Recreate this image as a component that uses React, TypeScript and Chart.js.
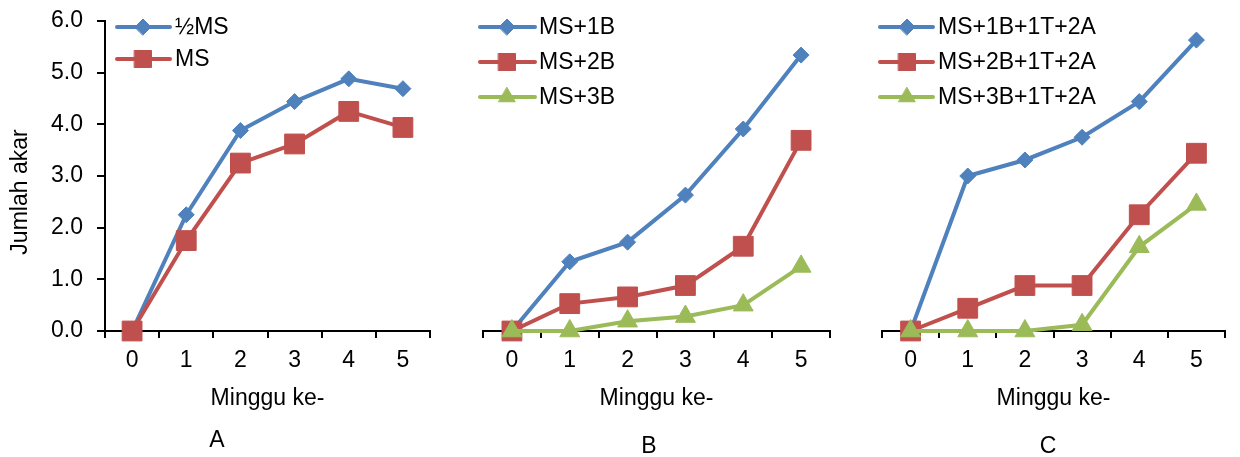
import React, { useEffect, useRef } from "react";
import { Chart, registerables } from "chart.js";

Chart.register(...registerables);

const WEEKS = ["0", "1", "2", "3", "4", "5"];

const A_HALF_MS = [0, 2.25, 3.88, 4.44, 4.88, 4.69];
const A_MS = [0, 1.75, 3.25, 3.62, 4.25, 3.94];

const B_1B = [0, 1.34, 1.72, 2.63, 3.91, 5.34];
const B_2B = [0, 0.53, 0.66, 0.88, 1.64, 3.69];
const B_3B = [0, 0, 0.19, 0.28, 0.5, 1.25];

const C_1B = [0, 3.0, 3.31, 3.75, 4.44, 5.63];
const C_2B = [0, 0.44, 0.88, 0.88, 2.25, 3.44];
const C_3B = [0, 0, 0, 0.12, 1.63, 2.45];

const Y_TITLE = "Jumlah akar";
const X_TITLE = "Minggu ke-";

const FONT = "'Liberation Sans', Arial, sans-serif";
const BLUE = "#4F81BD";
const RED = "#C0504D";
const GREEN = "#9BBB59";

type Series = { label: string; data: number[]; color: string; style: string; r: number; lr: number };

const diamond = (label: string, data: number[]): Series => ({ label, data, color: BLUE, style: "rectRot", r: 8, lr: 8 });
const square = (label: string, data: number[]): Series => ({ label, data, color: RED, style: "rect", r: 14, lr: 12 });
const triangle = (label: string, data: number[]): Series => ({ label, data, color: GREEN, style: "triangle", r: 11.5, lr: 9.5 });

const PANELS = [
  {
    left: 0, width: 445, padL: 0, padR: 13, yAxis: true,
    letter: "A", letterX: 217, letterY: 447,
    legend: { x1: 117, x2: 170, mx: 143, tx: 175, rows: [27, 59] },
    series: [diamond("½MS", A_HALF_MS), square("MS", A_MS)],
  },
  {
    left: 445, width: 400, padL: 38, padR: 4, yAxis: false,
    letter: "B", letterX: 204, letterY: 453,
    legend: { x1: 35, x2: 90, mx: 62, tx: 94, rows: [27, 62, 97] },
    series: [diamond("MS+1B", B_1B), square("MS+2B", B_2B), triangle("MS+3B", B_3B)],
  },
  {
    left: 845, width: 395, padL: 37, padR: 0, yAxis: false,
    letter: "C", letterX: 203, letterY: 453,
    legend: { x1: 35, x2: 88, mx: 62, tx: 93, rows: [27, 62, 97] },
    series: [
      diamond("MS+1B+1T+2A", C_1B),
      square("MS+2B+1T+2A", C_2B),
      triangle("MS+3B+1T+2A", C_3B),
    ],
  },
];

const H = 457;

function drawMarker(ctx: CanvasRenderingContext2D, style: string, r: number, x: number, y: number) {
  ctx.beginPath();
  if (style === "rectRot") {
    ctx.moveTo(x - r, y);
    ctx.lineTo(x, y - r);
    ctx.lineTo(x + r, y);
    ctx.lineTo(x, y + r);
  } else if (style === "rect") {
    const s = Math.SQRT1_2 * r;
    ctx.rect(x - s, y - s, 2 * s, 2 * s);
  } else {
    const a = (2 * Math.PI) / 3;
    ctx.moveTo(x, y - r);
    ctx.lineTo(x + Math.sin(a) * r, y - Math.cos(a) * r);
    ctx.lineTo(x + Math.sin(2 * a) * r, y - Math.cos(2 * a) * r);
  }
  ctx.closePath();
  ctx.fill();
  ctx.stroke();
}

function Panel({ cfg }: { cfg: (typeof PANELS)[number] }) {
  const ref = useRef<HTMLCanvasElement>(null);
  useEffect(() => {
    const canvas = ref.current!;
    const n = cfg.series.length;
    const overlay = {
      id: "overlay",
      afterDraw(chart: any) {
        const ctx = chart.ctx as CanvasRenderingContext2D;
        ctx.save();
        cfg.series.forEach((s, i) => {
          const y = cfg.legend.rows[i];
          ctx.strokeStyle = s.color;
          ctx.lineWidth = 4;
          ctx.lineCap = "round";
          ctx.beginPath();
          ctx.moveTo(cfg.legend.x1, y);
          ctx.lineTo(cfg.legend.x2, y);
          ctx.stroke();
          ctx.fillStyle = s.color;
          ctx.strokeStyle = s.color;
          ctx.lineWidth = 1;
          drawMarker(ctx, s.style, s.lr, cfg.legend.mx, y);
          ctx.fillStyle = "#000";
          ctx.font = `23px ${FONT}`;
          ctx.textAlign = "left";
          ctx.textBaseline = "middle";
          ctx.fillText(s.label, cfg.legend.tx, y + 1);
        });
        ctx.fillStyle = "#000";
        ctx.font = `23px ${FONT}`;
        ctx.textAlign = "center";
        ctx.textBaseline = "alphabetic";
        ctx.fillText(cfg.letter, cfg.letterX, cfg.letterY);
        if (cfg.yAxis) {
          ctx.translate(21, 192);
          ctx.rotate(-Math.PI / 2);
          ctx.font = `23px ${FONT}`;
          ctx.textAlign = "center";
          ctx.textBaseline = "middle";
          ctx.fillText(Y_TITLE, 0, 0);
        }
        ctx.restore();
      },
    };
    const chart = new Chart(canvas, {
      type: "line",
      data: {
        labels: WEEKS,
        datasets: cfg.series.map((s, i) => ({
          label: s.label,
          data: s.data,
          borderColor: s.color,
          backgroundColor: s.color,
          borderWidth: 4,
          pointStyle: s.style as any,
          pointRadius: s.r,
          pointHoverRadius: s.r,
          pointBackgroundColor: s.color,
          pointBorderColor: s.color,
          pointBorderWidth: 1,
          tension: 0,
          clip: false as any,
          order: n - i,
        })),
      },
      options: {
        responsive: false,
        animation: false,
        layout: { padding: { left: cfg.padL, right: cfg.padR, top: 21, bottom: 0 } },
        plugins: { legend: { display: false }, tooltip: { enabled: false }, title: { display: false } },
        scales: {
          x: {
            type: "category",
            offset: true,
            grid: {
              display: true,
              drawOnChartArea: false,
              drawTicks: true,
              tickLength: 7,
              offset: true,
              color: "#000",
              lineWidth: 2,
            },
            border: { display: true, color: "#000", width: 2 },
            ticks: {
              color: "#000",
              font: { family: FONT, size: 23 },
              padding: 9,
              autoSkip: false,
              maxRotation: 0,
            },
            title: {
              display: true,
              text: X_TITLE,
              color: "#000",
              font: { family: FONT, size: 23 },
              padding: { top: 0, bottom: 45 },
            },
            afterFit: (s: any) => {
              s.height = H - 331;
              s.paddingLeft = 0;
              s.paddingRight = 0;
            },
          },
          y: {
            display: cfg.yAxis,
            min: 0,
            max: 6,
            grid: {
              display: true,
              drawOnChartArea: false,
              drawTicks: true,
              tickLength: 8,
              color: "#000",
              lineWidth: 2,
            },
            border: { display: true, color: "#000", width: 2 },
            ticks: {
              stepSize: 1,
              color: "#000",
              font: { family: FONT, size: 23 },
              padding: 14,
              callback: (v: any) => Number(v).toFixed(1),
            },
            afterFit: (s: any) => {
              s.width = cfg.yAxis ? 105 : 0;
              s.paddingTop = 0;
              s.paddingBottom = 0;
            },
          },
        },
      },
      plugins: [overlay],
    });
    return () => chart.destroy();
  }, []);
  return (
    <canvas
      ref={ref}
      width={cfg.width}
      height={H}
      style={{ position: "absolute", left: cfg.left, top: 0, width: cfg.width, height: H }}
    />
  );
}

export default function App() {
  return (
    <div style={{ position: "absolute", left: 0, top: 0, width: 1240, height: H, background: "#fff" }}>
      {PANELS.map((p) => (
        <Panel key={p.letter} cfg={p} />
      ))}
    </div>
  );
}
